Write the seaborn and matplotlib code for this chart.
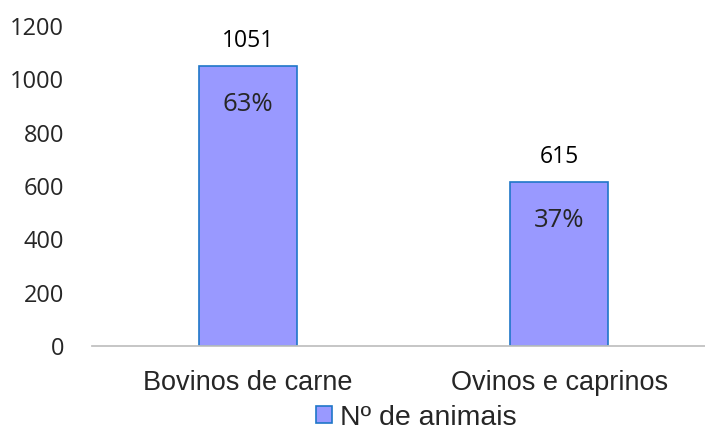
import matplotlib
matplotlib.use("Agg")
import matplotlib.pyplot as plt
import seaborn as sns
import pandas as pd

# chart data
categories = ["Bovinos de carne", "Ovinos e caprinos"]
animais = [1051, 615]
percent_labels = ["63%", "37%"]
y_ticks = [0, 200, 400, 600, 800, 1000, 1200]
legend_label = "Nº de animais"

df = pd.DataFrame({"Categoria": categories, "Animais": animais})

sns.set_theme(style="white")
plt.rcParams["font.family"] = ["Liberation Sans", "DejaVu Sans"]

fig = plt.figure(figsize=(7.05, 4.32), dpi=100)
# axes runs a bit past the right edge, like the source chart
ax = fig.add_axes([0.1305, 0.199, 0.884, 0.741])

sns.barplot(data=df, x="Categoria", y="Animais", ax=ax, color="#9999FF",
            edgecolor="#1F77C8", linewidth=1.2, width=0.315, saturation=1,
            label=legend_label)

ax.set_ylim(0, 1200)
ax.set_yticks(y_ticks)
ax.set_yticklabels([str(t) for t in y_ticks], family="Open Sans", fontsize=17)
ax.set_xlim(-0.5, 1.5)
ax.tick_params(axis="x", labelsize=19.5, length=0, pad=17)
ax.tick_params(axis="y", length=0, pad=20)
ax.set_xlabel("")
ax.set_ylabel("")
for side in ["top", "right", "left"]:
    ax.spines[side].set_visible(False)
ax.spines["bottom"].set_color("#BFBFBF")

# value labels above bars and percentages inside
for i, (v, p) in enumerate(zip(animais, percent_labels)):
    ax.annotate(str(v), (i, v), xytext=(0, 9), textcoords="offset points",
                ha="center", va="bottom", family="Open Sans", fontsize=16.5, color="#000000")
    ax.annotate(p, (i, v), xytext=(0, -19), textcoords="offset points",
                ha="center", va="top", family="Open Sans", fontsize=18.5, color="#262626")

ax.legend(loc="upper center", bbox_to_anchor=(0.521, -0.183), frameon=False,
          fontsize=20.5, handlelength=0.55, handleheight=0.55, handletextpad=0.3,
          borderaxespad=0, borderpad=0)

fig.savefig("out.png", dpi=100)
